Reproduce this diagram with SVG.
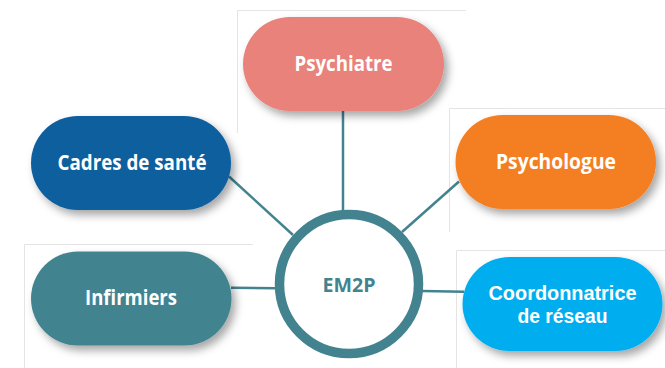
<svg xmlns="http://www.w3.org/2000/svg" width="665" height="368" viewBox="0 0 665 368">
<defs>
<filter id="sh" x="-20%" y="-30%" width="150%" height="170%">
<feDropShadow dx="4" dy="5" stdDeviation="4.5" flood-color="#000" flood-opacity="0.35"/>
</filter>
<style>
.lbl{font-family:"Open Sans","Noto Sans",sans-serif;font-weight:bold;font-size:21px;fill:#fff;text-anchor:middle}
.lbl2{font-family:"Liberation Sans",Arial,sans-serif;font-weight:bold;font-size:20px;fill:#fff;text-anchor:middle}
.frame{stroke:#e4e4e4;stroke-width:1;fill:none}
.conn{stroke:#438390;stroke-width:2.5;fill:none}
</style>
</defs>
<rect width="665" height="368" fill="#fff"/>
<g id="frames">
<path class="frame" d="M237.5 133V10.5H466"/>
<path class="frame" d="M449.5 232V108.5H665"/>
<path class="frame" d="M24.5 368V244.5H253"/>
<path class="frame" d="M456.5 368V250.5H665"/>
</g>
<g id="connectors">
<line class="conn" x1="343" y1="110" x2="343" y2="212"/>
<line class="conn" x1="229" y1="176.5" x2="293" y2="235"/>
<line class="conn" x1="459" y1="181.5" x2="402" y2="232"/>
<line class="conn" x1="231" y1="287.7" x2="276" y2="288.3"/>
<line class="conn" x1="422" y1="291" x2="464" y2="291.7"/>
</g>
<g id="em2p">
<circle cx="349" cy="284" r="69.5" fill="#fff" stroke="#438390" stroke-width="9.5"/>
<text x="349" y="291.5" font-family="'Open Sans','Noto Sans',sans-serif" font-weight="bold" font-size="20" fill="#438390" text-anchor="middle" textLength="53" lengthAdjust="spacingAndGlyphs">EM2P</text>
</g>
<g id="psychiatre">
<rect x="243" y="17" width="201" height="94" rx="47" fill="#e8827a" filter="url(#sh)"/>
<text class="lbl" x="343.5" y="71" textLength="98" lengthAdjust="spacingAndGlyphs">Psychiatre</text>
</g>
<g id="cadres">
<rect x="31" y="116" width="200" height="94" rx="47" fill="#0b5e9e" filter="url(#sh)"/>
<text class="lbl" x="132" y="170" textLength="149" lengthAdjust="spacingAndGlyphs">Cadres de santé</text>
</g>
<g id="psychologue">
<rect x="455.5" y="115" width="200.5" height="94" rx="47" fill="#f47f22" filter="url(#sh)"/>
<text class="lbl" x="556" y="169" textLength="120" lengthAdjust="spacingAndGlyphs">Psychologue</text>
</g>
<g id="infirmiers">
<rect x="31" y="251.5" width="200.5" height="94" rx="47" fill="#438390" filter="url(#sh)"/>
<text class="lbl" x="131" y="305" textLength="92" lengthAdjust="spacingAndGlyphs">Infirmiers</text>
</g>
<g id="coordonnatrice">
<rect x="462.5" y="257" width="200" height="94" rx="47" fill="#00aeef" filter="url(#sh)"/>
<text class="lbl2" x="562.5" y="299.5" textLength="148" lengthAdjust="spacingAndGlyphs">Coordonnatrice</text>
<text class="lbl2" x="562.5" y="322.5" textLength="90" lengthAdjust="spacingAndGlyphs">de réseau</text>
</g>
</svg>
